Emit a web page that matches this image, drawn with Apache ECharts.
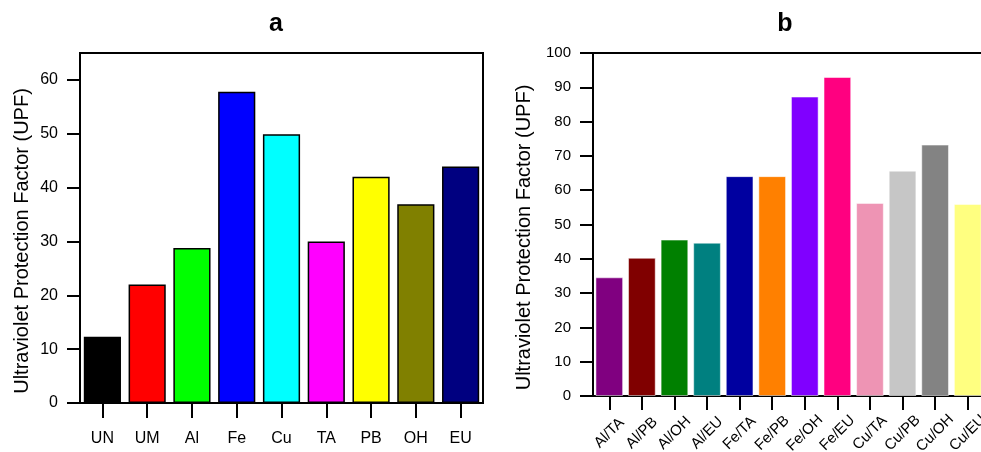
<!DOCTYPE html>
<html>
<head>
<meta charset="utf-8">
<script src="https://cdn.jsdelivr.net/npm/echarts@6/dist/echarts.min.js"></script>
<style>
html,body{margin:0;padding:0;background:#fff;}
#c{width:981px;height:452px;}
</style>
</head>
<body>
<div id="c"></div>
<script>
// ---- Panel a data ----
var catsA = ['UN', 'UM', 'Al', 'Fe', 'Cu', 'TA', 'PB', 'OH', 'EU'];
var valsA = [12.3, 22.0, 28.8, 57.8, 49.9, 30.0, 42.0, 36.9, 43.9];
var colorsA = ['#000000', '#FF0000', '#00FF00', '#0000FF', '#00FFFF', '#FF00FF', '#FFFF00', '#808000', '#000080'];
var ticksA = [0, 10, 20, 30, 40, 50, 60];

// ---- Panel b data ----
var catsB = ['Al/TA', 'Al/PB', 'Al/OH', 'Al/EU', 'Fe/TA', 'Fe/PB', 'Fe/OH', 'Fe/EU', 'Cu/TA', 'Cu/PB', 'Cu/OH', 'Cu/EU'];
var valsB = [34.6, 40.3, 45.6, 44.7, 64.1, 64.1, 87.3, 93.0, 56.3, 65.7, 73.3, 56.0];
var colorsB = ['#800080', '#800000', '#008000', '#008080', '#0000A0', '#FF8000', '#8000FF', '#FF0080', '#EE94B4', '#C6C6C6', '#838383', '#FFFF80'];
var ticksB = [0, 10, 20, 30, 40, 50, 60, 70, 80, 90, 100];

var yName = 'Ultraviolet Protection Factor (UPF)';
var FONT = 'Liberation Sans, Arial, sans-serif';

var chart = echarts.init(document.getElementById('c'), null, {renderer: 'canvas'});

function yAxisCfg(gridIndex, max, ticks, fs, nameGap, pad) {
  return {
    type: 'value', gridIndex: gridIndex, min: 0, max: max,
    name: yName, nameLocation: 'middle', nameGap: nameGap,
    nameTextStyle: {fontFamily: FONT, fontSize: 20, color: '#000', padding: pad},
    axisLine: {show: true, lineStyle: {color: '#000', width: 2}},
    axisTick: {show: true, inside: false, length: 13, lineStyle: {color: '#000', width: 2}, customValues: ticks},
    axisLabel: {fontFamily: FONT, fontSize: fs, color: '#000', margin: 22, customValues: ticks},
    splitLine: {show: false}
  };
}

chart.setOption({
  backgroundColor: '#ffffff',
  animation: false,
  title: [
    {text: 'a', left: 271, top: 7, textAlign: 'center',
     textStyle: {fontFamily: FONT, fontWeight: 'bold', fontSize: 25, color: '#000'}},
    {text: 'b', left: 780, top: 7, textAlign: 'center',
     textStyle: {fontFamily: FONT, fontWeight: 'bold', fontSize: 25, color: '#000'}}
  ],
  grid: [
    {left: 80, top: 53, width: 403, height: 350, show: true, borderColor: '#000', borderWidth: 2,
     backgroundColor: 'transparent', outerBoundsMode: 'none', containLabel: false},
    {left: 593, top: 53, width: 391, height: 343, show: true, borderColor: '#000', borderWidth: 2,
     backgroundColor: 'transparent', outerBoundsMode: 'none', containLabel: false}
  ],
  xAxis: [
    {type: 'category', gridIndex: 0, data: catsA,
     axisLine: {lineStyle: {color: '#000', width: 2}},
     axisTick: {show: true, alignWithLabel: true, length: 15, lineStyle: {color: '#000', width: 2}},
     axisLabel: {fontFamily: FONT, fontSize: 16, color: '#000', margin: 28}},
    {type: 'category', gridIndex: 1, data: catsB,
     axisLine: {lineStyle: {color: '#000', width: 2}},
     axisTick: {show: true, alignWithLabel: true, length: 14, lineStyle: {color: '#000', width: 2}},
     axisLabel: {fontFamily: FONT, fontSize: 15, color: '#000', margin: 37, rotate: 45,
                 align: 'center', verticalAlign: 'middle', interval: 0}}
  ],
  yAxis: [
    yAxisCfg(0, 65, ticksA, 16, 48, [0, 26, 0, 0]),
    yAxisCfg(1, 100, ticksB, 15, 59, [0, 26, 0, 0])
  ],
  series: [
    {type: 'bar', xAxisIndex: 0, yAxisIndex: 0, barWidth: '83%',
     data: valsA.map(function (v, i) {
       return {value: v, itemStyle: {color: colorsA[i], borderColor: '#000', borderWidth: 1.5}};
     })},
    {type: 'bar', xAxisIndex: 1, yAxisIndex: 1, barWidth: '85%',
     data: valsB.map(function (v, i) {
       return {value: v, itemStyle: {color: colorsB[i], borderColor: 'rgba(255,255,255,0.5)', borderWidth: 1}};
     })}
  ]
});
</script>
</body>
</html>
